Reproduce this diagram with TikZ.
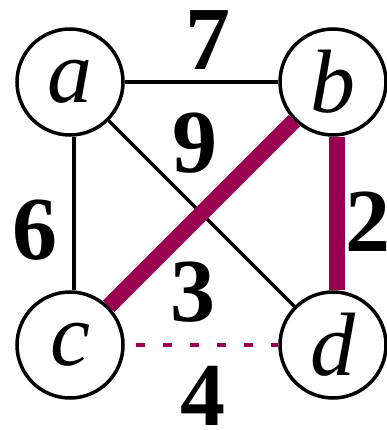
\documentclass[tikz,border=0pt]{standalone}
\usepackage{fontspec}
\setmainfont{Liberation Serif}
\usepackage{tikz}
\usetikzlibrary{positioning}
\definecolor{treeclr}{RGB}{153,0,82}
\newcommand\hugetxt{\fontsize{90}{90}\selectfont}

\begin{document}
\begin{tikzpicture}[x=1pt, y=-1pt,
    vertex/.style = {circle, draw, line width=3.5pt, minimum size=106pt, inner sep=0pt, font=\hugetxt\itshape},
    weight/.style = {inner sep=0pt, font=\hugetxt\bfseries},
    edge/.style = {line width=3.5pt},
    treeedge/.style = {line width=16pt, treeclr},
    skipedge/.style = {line width=4pt, treeclr, dash pattern=on 9pt off 18pt}]
                \useasboundingbox (0,0) rectangle (387,430);
                \node [vertex] (a) at (70,82) {a};
                \node [vertex] (b) at (333,82) {b};
                \node [vertex] (c) at (70,345) {c};
                \node [vertex] (d) at (333,345) {d};
                % edges
                \draw [edge] (a) -- (b);
                \draw [edge] ([xshift=4pt]a.south) -- ([xshift=4pt]c.north);
                \draw [edge] (a) -- (d);
                \draw [treeedge] (b) -- (c);
                \draw [treeedge] ([xshift=4pt]b.south) -- ([xshift=4pt]d.north);
                \draw [skipedge, shorten <=11pt] (c) -- (d);
                % weights
                \node [weight] (w7) at (208,40) {7};
                \node [weight] (w9) at (195,143) {9};
                \node [weight] (w6) at (35,230) {6};
                \node [weight] (w2) at (368,222) {2};
                \node [weight] (w3) at (193,292) {3};
                \node [weight] (w4) at (203,396) {4};
            \end{tikzpicture}
\end{document}
